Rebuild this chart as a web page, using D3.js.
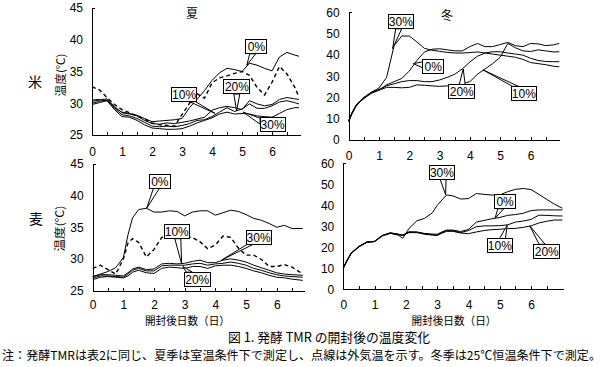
<!DOCTYPE html>
<html><head><meta charset="utf-8">
<script src="https://cdn.jsdelivr.net/npm/d3@7/dist/d3.min.js"></script>
<style>
body{margin:0;background:#fff;}
svg{display:block;}
</style></head><body>
<svg id="c" width="606" height="367"></svg>
<script>
// ---------------- data ----------------
const seriesNames = ["0%", "10%", "20%", "30%"];
const xTickValues = [0,0.5,1,1.5,2,2.5,3,3.5,4,4.5,5,5.5,6,6.5];
const summerTicks = [25,30,35,40,45];
const winterTicks = [0,10,20,30,40,50,60];

// 米・夏
const daysRiceSummer = [0,0.25,0.5,0.75,1,1.25,1.5,1.75,2,2.25,2.5,2.75,3,3.25,3.5,3.75,4,4.25,4.5,4.75,5,5.25,5.5,5.75,6,6.25,6.5,6.75,6.9];
const riceSummer0  = [30.5,30.6,30.4,29.3,28.6,28.4,28.1,27.6,27.1,27.2,27.3,27.4,27.6,29.3,30.6,32.0,33.6,34.8,35.5,35.3,35.0,36.3,36.0,35.5,35.1,37.3,38.0,37.6,37.4];
const riceSummer10 = [30.3,30.5,30.7,29.5,28.5,28.3,28.0,27.3,26.8,26.7,26.9,26.8,27.0,27.2,27.5,27.8,28.9,29.3,29.5,29.3,29.0,30.4,29.9,29.6,29.8,30.6,30.9,30.7,30.6];
const riceSummer20 = [30.0,30.3,30.5,29.2,28.2,28.0,27.6,27.0,26.4,26.3,26.4,26.3,26.5,26.8,27.3,27.4,27.9,28.6,29.3,28.7,29.1,29.9,29.2,29.2,29.6,30.2,30.4,30.1,29.9];
const riceSummer30 = [29.8,30.1,30.4,29.0,27.9,27.8,27.3,26.6,26.1,26.0,25.9,25.9,26.0,26.4,26.9,27.3,27.7,28.3,28.6,28.3,28.4,28.3,28.0,27.9,27.8,28.4,29.0,29.3,29.3];
const riceSummerAir = [32.6,32.1,30.9,29.8,29.0,28.5,28.0,27.5,26.9,26.6,26.5,26.4,28.2,30.0,31.5,30.8,33.2,34.0,34.3,34.7,35.0,34.4,32.5,31.3,33.3,35.8,34.6,32.6,31.0];

// 米・冬
const daysRiceWinter = [0,0.1,0.25,0.5,0.75,1,1.25,1.5,1.75,2,2.25,2.5,2.75,3,3.25,3.5,3.75,4,4.25,4.5,4.75,5,5.25,5.5,5.75,6,6.25,6.5,6.75,6.95];
const riceWinter0  = [8.5,12,16,20,22.3,23.5,26,27.5,29,32.5,37.5,41.5,42.8,43,42.5,42,42,44,45.5,44,44,45,46,44.5,44,45.5,45.3,44.5,44.8,45.5];
const riceWinter10 = [9,12.5,16.5,19.5,22,23.5,24.8,24.8,24.6,24.8,26,25.8,25.5,25.3,25.5,26,26.5,27.5,31,33.5,36,39,45.5,43.5,42,41.7,42.5,42,41.5,41.6];
const riceWinter20 = [9,12.5,16.5,20,22.5,23.8,25.5,26.5,27.5,28,28,27.5,27.5,28.3,29.5,31,33.5,36.8,39.5,41,41.6,41.6,41,40.5,40,38.5,37.5,37,36.9,36.9];
const riceWinter30 = [9,12.5,16.5,20,22.5,24.5,29.5,44.5,49,49,46.2,43.2,42.3,41.8,41.3,41,41,41.2,41.5,41,40.5,40,39.5,39,38,36.5,36,35.5,34.8,34.5];

// 麦・夏
const daysWheatSummer = [0,0.25,0.5,0.75,1,1.15,1.3,1.5,1.75,2,2.25,2.5,2.75,3,3.25,3.5,3.75,4,4.25,4.5,4.75,5,5.25,5.5,5.75,6,6.25,6.5,6.85];
const wheatSummer0  = [27.2,27.6,28.0,28.6,30.2,33.8,36.5,37.8,38.0,37.4,37.4,37.6,37.5,36.8,37.4,37.6,37.6,36.9,37.3,37.7,37.5,37.0,36.4,36.1,35.6,35.0,35.3,34.8,34.8];
const wheatSummer10 = [27.0,27.3,27.3,27.2,27.1,27.6,28.2,28.5,28.1,28.1,28.9,29.0,29.0,29.0,29.2,29.3,29.0,29.2,29.3,29.5,29.3,29.0,28.5,28.2,27.8,27.5,27.3,27.2,27.1];
const wheatSummer20 = [26.7,27.1,27.2,27.1,27.0,27.3,27.9,28.2,27.8,27.7,28.5,28.7,28.6,28.5,28.8,28.8,28.5,28.9,29.0,29.0,28.8,28.5,28.1,27.8,27.4,27.1,27.0,26.8,26.6];
const wheatSummer30 = [27.2,27.5,27.5,27.4,27.3,27.8,28.4,28.7,28.3,28.4,29.2,29.3,29.2,29.3,29.6,29.8,29.4,29.4,29.8,30.0,29.8,29.5,29.0,28.6,28.2,27.8,27.6,27.5,27.4];
const wheatSummerAir = [28.5,29.0,28.3,27.6,30.0,32.5,33.2,32.6,30.3,31.5,33.4,33.6,33.3,33.5,33.4,32.7,31.6,32.2,33.6,33.4,31.7,30.6,30.6,29.9,28.8,28.8,29.1,28.7,27.6];

// 麦・冬
const daysWheatWinter = [0,0.1,0.25,0.5,0.75,1,1.25,1.5,1.75,1.9,2.1,2.35,2.6,2.85,3.0,3.15,3.3,3.5,3.75,4,4.25,4.5,4.75,5,5.25,5.5,5.75,6,6.25,6.5,6.75,7];
const wheatWinter0  = [10.2,13.2,17.2,20.3,22.4,22.8,25.6,26.9,26.3,25.6,27.4,27.3,26.6,26.3,26.2,27.3,28.2,28.2,27.5,28.5,32.0,32.8,33.6,34.2,35.2,35.6,36.2,37.5,37.8,37.8,37.8,37.8];
const wheatWinter10 = [10.4,13.3,17.3,20.5,22.5,22.9,25.7,26.8,26.2,25.9,27.2,27.2,26.4,26.0,25.8,27.0,27.9,27.9,27.0,28.0,29.8,30.2,30.2,30.3,30.7,32.0,32.5,33.3,35.3,35.2,35.0,34.9];
const wheatWinter20 = [10.0,13.0,17.0,20.2,22.3,22.7,25.4,26.6,26.0,25.7,27.0,27.0,26.2,25.8,25.6,26.7,27.6,27.6,26.8,26.5,27.3,28.0,28.4,28.6,28.9,29.0,29.5,30.2,31.6,32.4,33.0,33.0];
const wheatWinter30 = [10,13,17,20.3,22.5,22.8,25.5,26.8,25.8,24.3,29.0,32.6,33.8,36.5,40.0,42.5,44.9,44.5,43.0,43.2,45.6,45.2,44.9,44.9,46.5,47.6,48.0,47.5,45.2,42.8,40.5,38.6];

// callouts: label, box centre [day, value], arrow tip [day, value]
const calloutsRiceSummer = [
  {label:"0%",  box:[5.48,38.9], at:[5.16,36.0]},
  {label:"10%", box:[3.07,31.35], at:[4.1,28.4]},
  {label:"20%", box:[4.83,32.56], at:[4.82,28.8]},
  {label:"30%", box:[6.02,26.7], at:[5.04,28.6]}
];
const calloutsRiceWinter = [
  {label:"30%", box:[1.72,55.7], at:[1.45,43.1]},
  {label:"0%",  box:[2.79,34.8], at:[2.13,36.0]},
  {label:"20%", box:[3.73,22.8], at:[3.78,33.5]},
  {label:"10%", box:[5.78,22.0], at:[4.44,33.0]}
];
const calloutsWheatSummer = [
  {label:"0%",  box:[2.19,42.26], at:[1.76,38.0]},
  {label:"10%", box:[2.74,34.3], at:[2.9,29.2]},
  {label:"30%", box:[5.41,33.4], at:[4.2,29.8]},
  {label:"20%", box:[3.41,26.8], at:[2.94,28.8]}
];
const calloutsWheatWinter = [
  {label:"30%", box:[3.15,55.8], at:[3.27,45.0]},
  {label:"0%",  box:[5.17,41.7], at:[4.85,33.9]},
  {label:"10%", box:[5.0,20.7], at:[5.24,30.6]},
  {label:"20%", box:[6.5,18.1], at:[5.96,30.2]}
];

// ---------------- layout ----------------
const boxSize = {"0%":[21,14], "10%":[25,14], "20%":[26,14], "30%":[25,14]};
const panels = [
  {days:daysRiceSummer, series:[riceSummer0,riceSummer10,riceSummer20,riceSummer30], air:riceSummerAir,
   ticks:summerTicks, yDom:[25,45], callouts:calloutsRiceSummer,
   L:{x0:92, ppd:30, xEnd:300, yTop:8, yBot:135, xPad:12}},
  {days:daysRiceWinter, series:[riceWinter0,riceWinter10,riceWinter20,riceWinter30], air:null,
   ticks:winterTicks, yDom:[0,60], callouts:calloutsRiceWinter,
   L:{x0:348.7, ppd:30.3, xEnd:559.5, yTop:12.7, yBot:140, xPad:11}},
  {days:daysWheatSummer, series:[wheatSummer0,wheatSummer10,wheatSummer20,wheatSummer30], air:wheatSummerAir,
   ticks:summerTicks, yDom:[25,45], callouts:calloutsWheatSummer,
   L:{x0:92.7, ppd:30.67, xEnd:304, yTop:164, yBot:290.5, xPad:10}},
  {days:daysWheatWinter, series:[wheatWinter0,wheatWinter10,wheatWinter20,wheatWinter30], air:null,
   ticks:winterTicks, yDom:[0,60], callouts:calloutsWheatWinter,
   L:{x0:343.3, ppd:31.3, xEnd:563, yTop:163.3, yBot:289.3, xPad:11}}
];

const svg = d3.select("#c");
svg.append("rect").attr("width",606).attr("height",367).attr("fill","#fff");
const NUMFONT = "'Liberation Sans', Arial, sans-serif";
const JPFONT = "'Noto Sans CJK JP', sans-serif";

panels.forEach(p => {
  const L = p.L;
  const x = d3.scaleLinear().domain([0,(L.xEnd-L.x0)/L.ppd]).range([L.x0,L.xEnd]);
  const y = d3.scaleLinear().domain(p.yDom).range([L.yBot,L.yTop]);
  const g = svg.append("g");

  const line = d3.line().x(d=>x(d[0])).y(d=>y(d[1]));
  p.series.forEach(s => {
    g.append("path").datum(p.days.map((d,i)=>[d,s[i]]))
      .attr("d",line).attr("fill","none").attr("stroke","#000").attr("stroke-width",1);
  });
  if (p.air) {
    g.append("path").datum(p.days.map((d,i)=>[d,p.air[i]]))
      .attr("d",line).attr("fill","none").attr("stroke","#000").attr("stroke-width",1.4)
      .attr("stroke-dasharray","4,3");
  }

  const xa = d3.axisBottom(x).tickValues(xTickValues).tickSizeInner(-3).tickSizeOuter(0)
    .tickPadding(L.xPad).tickFormat(d => Number.isInteger(d) ? d : "");
  const gx = g.append("g").attr("transform",`translate(0,${L.yBot})`).call(xa);
  const ya = d3.axisLeft(y).tickValues(p.ticks).tickSize(0).tickPadding(9);
  const gy = g.append("g").attr("transform",`translate(${L.x0},0)`).call(ya);
  [gx,gy].forEach(a => {
    a.attr("font-family",NUMFONT).attr("font-size",12);
    a.selectAll("path,line").attr("stroke","#000").attr("shape-rendering","crispEdges");
    a.selectAll("text").attr("fill","#000");
  });
  g.append("line").attr("x1",L.x0).attr("x2",L.x0+3).attr("y1",L.yTop).attr("y2",L.yTop)
    .attr("stroke","#000").attr("shape-rendering","crispEdges");

  p.callouts.forEach(c => {
    const [w,h] = boxSize[c.label];
    const bx = x(c.box[0]), by = y(c.box[1]);
    const tx = x(c.at[0]), ty = y(c.at[1]);
    const dx = tx-bx, dy = ty-by;
    const sx = (w/2)/Math.max(Math.abs(dx),1e-6), sy = (h/2)/Math.max(Math.abs(dy),1e-6);
    let pts;
    if (sy <= sx) {
      const ex = bx+dx*sy, ey = by+dy*sy;
      const a = Math.max(bx-w/2+1, Math.min(ex-3, bx+w/2-7));
      pts = [[a,ey],[tx,ty],[a+6,ey]];
    } else {
      const ex = bx+dx*sx, ey = by+dy*sx;
      const a = Math.max(by-h/2+1, Math.min(ey-3, by+h/2-7));
      pts = [[ex,a],[tx,ty],[ex,a+6]];
    }
    g.append("path").attr("d","M"+pts.map(q=>q.join(",")).join("L")+"Z")
      .attr("fill","#fff").attr("stroke","#000").attr("stroke-width",1);
    g.append("rect").attr("x",bx-w/2).attr("y",by-h/2).attr("width",w).attr("height",h)
      .attr("fill","#fff").attr("stroke","#000").attr("stroke-width",1).attr("shape-rendering","crispEdges");
    g.append("text").attr("x",bx).attr("y",by+4.5).attr("text-anchor","middle")
      .attr("font-family",NUMFONT).attr("font-size",12).attr("fill","#000").text(c.label);
  });
});

function jp(txt, x, y, size, opts={}) {
  const t = svg.append("text").attr("x",x).attr("y",y).attr("font-family",opts.font||JPFONT)
    .attr("font-size",size).attr("fill","#000").attr("text-anchor",opts.anchor||"middle").text(txt);
  if (opts.rotate) t.attr("transform",`rotate(-90,${x},${y})`);
  if (opts.len) t.attr("textLength",opts.len).attr("lengthAdjust","spacingAndGlyphs");
  return t;
}
jp("夏", 192, 17.5, 12);
jp("冬", 447, 19.5, 12);
jp("米", 35, 86.5, 14);
jp("麦", 36, 224, 14);
jp("温度(℃)", 64.5, 75, 11, {rotate:true, len:43});
jp("温度(℃)", 64, 228.5, 11, {rotate:true, len:46});
jp("開封後日数（日）", 187.5, 325, 11, {len:85});
jp("開封後日数（日）", 454, 325, 11, {len:85});
jp("図 1. 発酵 TMR の開封後の温度変化", 329, 342, 13, {len:202});
jp("注：発酵TMRは表2に同じ、夏季は室温条件下で測定し、点線は外気温を示す。冬季は25℃恒温条件下で測定。", 2, 360, 12, {anchor:"start", len:599});
</script></body></html>
